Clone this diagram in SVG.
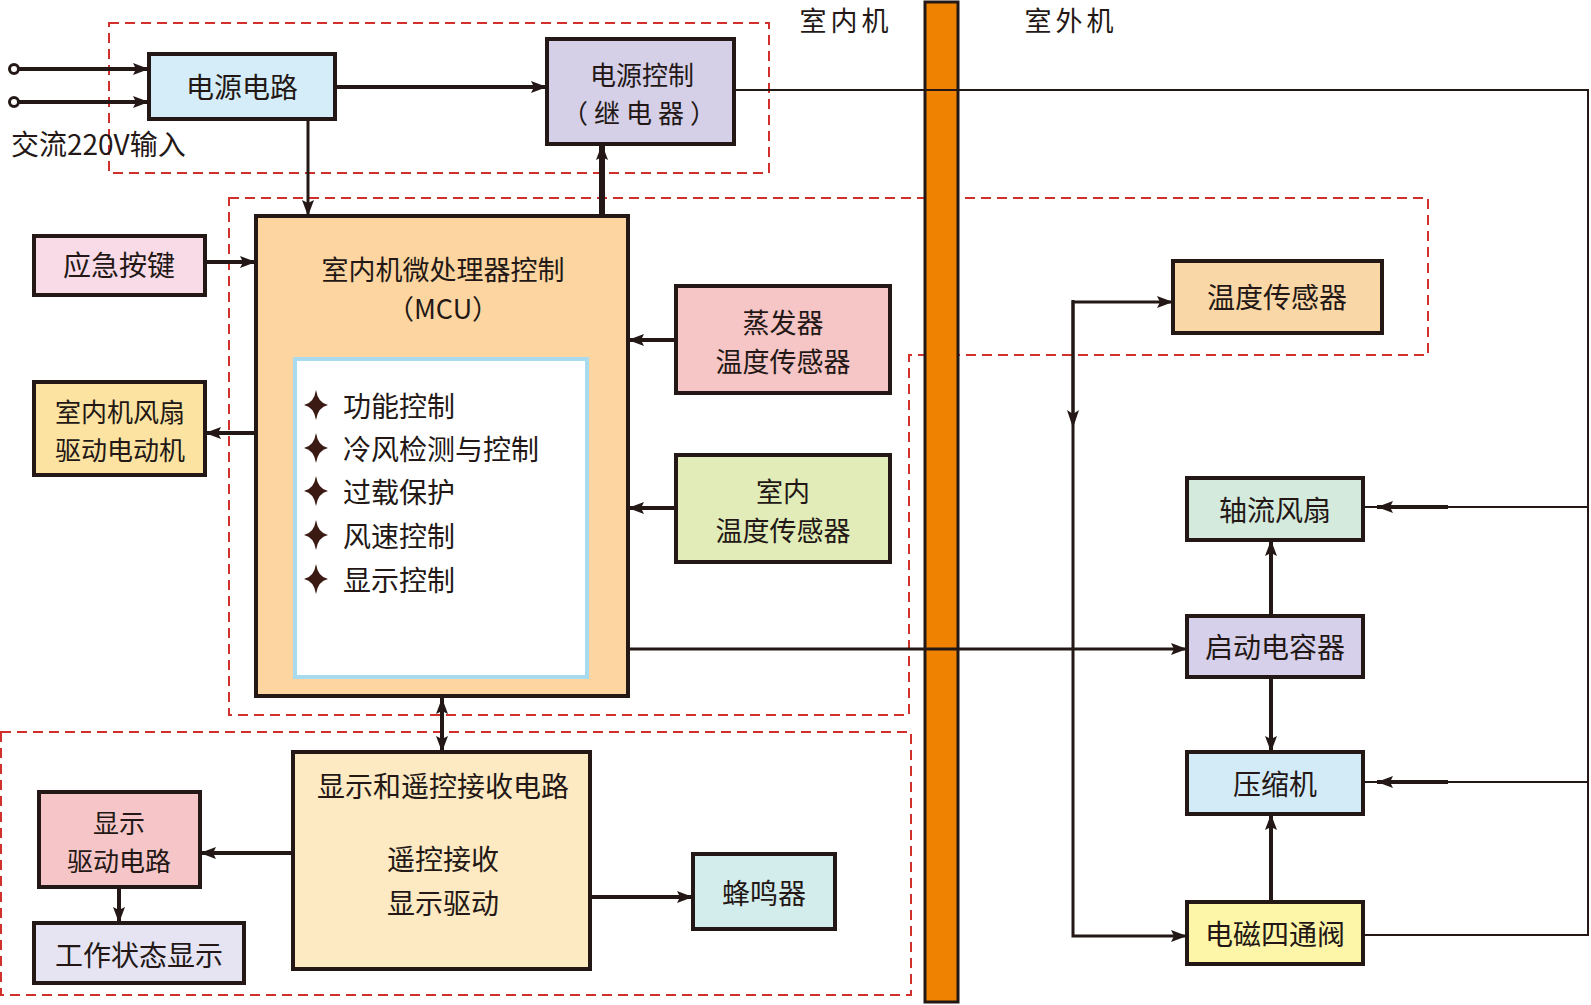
<svg xmlns="http://www.w3.org/2000/svg" width="1591" height="1005" viewBox="0 0 1591 1005">
<defs>
<style>
.n{stroke:#231815;stroke-width:4}
.t{font-family:"Noto Sans CJK SC","Noto Sans CJK JP",sans-serif;font-size:28px;fill:#231815;text-anchor:middle;dominant-baseline:central}
.s{font-size:27px}
.m{font-size:26px}
.tl{text-anchor:start}
.d{fill:none;stroke:#d2302a;stroke-width:2;stroke-dasharray:10 6}
.c{fill:none;stroke:#231815;stroke-width:4}
.c3{fill:none;stroke:#231815;stroke-width:3}
.c2{fill:none;stroke:#231815;stroke-width:2}
</style>
<marker id="a" markerUnits="userSpaceOnUse" markerWidth="18" markerHeight="14" refX="16" refY="6" orient="auto-start-reverse" viewBox="0 0 18 14">
<path d="M0,0 L16,6 L0,12 L3,6 z" fill="#231815"/>
</marker>
<path id="star" d="M0,-15 Q2,-2 12,0 Q2,2 0,15 Q-2,2 -12,0 Q-2,-2 0,-15 z" fill="#3a1a12"/>
</defs>
<rect width="1591" height="1005" fill="#fff"/>

<g id="groups">
<rect class="d" x="109" y="23" width="660" height="150"/>
<path class="d" d="M229,198 H1428 V355 H909 V715 H229 Z"/>
<rect class="d" x="1" y="732" width="910" height="263"/>
</g>

<g id="divider">
<rect x="925" y="2" width="33" height="1000" fill="#ef8200" stroke="#231815" stroke-width="3"/>
<text class="t s" x="846" y="19" letter-spacing="4">室内机</text>
<text class="t s" x="1071" y="19" letter-spacing="4">室外机</text>
</g>

<g id="input">
<text class="t tl" x="11" y="143">交流220V输入</text>
</g>

<g id="n-power">
<rect class="n" x="149" y="54" width="186" height="65" fill="#d4edf9"/>
<text class="t" x="242" y="86">电源电路</text>
</g>
<g id="n-relay">
<rect class="n" x="547" y="39" width="187" height="105" fill="#d5cfe8"/>
<text class="t m" x="642" y="73">电源控制</text>
<text class="t m" x="642" y="111" letter-spacing="6">（继电器）</text>
</g>
<g id="n-mcu">
<rect class="n" x="256" y="216" width="372" height="480" fill="#fcd5a0"/>
<text class="t s" x="443" y="268">室内机微处理器控制</text>
<text class="t s" x="443" y="307">（MCU）</text>
<rect x="295" y="359" width="292" height="318" fill="#fff" stroke="#a8dbf0" stroke-width="4"/>
<use href="#star" x="316" y="405"/>
<use href="#star" x="316" y="448"/>
<use href="#star" x="316" y="491"/>
<use href="#star" x="316" y="535"/>
<use href="#star" x="316" y="579"/>
<text class="t tl" x="343" y="405">功能控制</text>
<text class="t tl" x="343" y="448">冷风检测与控制</text>
<text class="t tl" x="343" y="491">过载保护</text>
<text class="t tl" x="343" y="535">风速控制</text>
<text class="t tl" x="343" y="579">显示控制</text>
</g>
<g id="n-key">
<rect class="n" x="34" y="236" width="171" height="59" fill="#f9dbe8"/>
<text class="t" x="119" y="264">应急按键</text>
</g>
<g id="n-fan">
<rect class="n" x="34" y="382" width="171" height="93" fill="#fce3a1"/>
<text class="t m" x="120" y="410">室内机风扇</text>
<text class="t m" x="120" y="448">驱动电动机</text>
</g>
<g id="n-evap">
<rect class="n" x="676" y="286" width="214" height="107" fill="#f6c5c6"/>
<text class="t s" x="783" y="321">蒸发器</text>
<text class="t s" x="783" y="360">温度传感器</text>
</g>
<g id="n-room">
<rect class="n" x="676" y="455" width="214" height="107" fill="#e1ecb8"/>
<text class="t s" x="783" y="490">室内</text>
<text class="t s" x="783" y="529">温度传感器</text>
</g>
<g id="n-disp">
<rect class="n" x="293" y="752" width="297" height="217" fill="#fde9c2"/>
<text class="t" x="443" y="785">显示和遥控接收电路</text>
<text class="t" x="443" y="858">遥控接收</text>
<text class="t" x="443" y="902">显示驱动</text>
</g>
<g id="n-drv">
<rect class="n" x="39" y="792" width="161" height="95" fill="#f6c5c7"/>
<text class="t m" x="119" y="821">显示</text>
<text class="t m" x="119" y="859">驱动电路</text>
</g>
<g id="n-state">
<rect class="n" x="34" y="923" width="210" height="60" fill="#e6e4f2"/>
<text class="t" x="139" y="954">工作状态显示</text>
</g>
<g id="n-buzz">
<rect class="n" x="693" y="854" width="142" height="75" fill="#d3ecec"/>
<text class="t" x="764" y="892">蜂鸣器</text>
</g>
<g id="n-otemp">
<rect class="n" x="1173" y="261" width="209" height="72" fill="#fad7a6"/>
<text class="t" x="1277" y="296">温度传感器</text>
</g>
<g id="n-axial">
<rect class="n" x="1187" y="478" width="176" height="62" fill="#d3eadd"/>
<text class="t" x="1275" y="509">轴流风扇</text>
</g>
<g id="n-cap">
<rect class="n" x="1187" y="616" width="176" height="61" fill="#d6d0ea"/>
<text class="t" x="1275" y="646">启动电容器</text>
</g>
<g id="n-comp">
<rect class="n" x="1187" y="752" width="176" height="62" fill="#d3eaf7"/>
<text class="t" x="1275" y="783">压缩机</text>
</g>
<g id="n-valve">
<rect class="n" x="1187" y="902" width="176" height="62" fill="#fdf5a8"/>
<text class="t" x="1275" y="933">电磁四通阀</text>
</g>

<g id="connectors">
<circle cx="14" cy="69" r="4.5" fill="#fff" stroke="#231815" stroke-width="3"/>
<circle cx="14" cy="102" r="4.5" fill="#fff" stroke="#231815" stroke-width="3"/>
<path class="c" d="M18,69 H149" marker-end="url(#a)"/>
<path class="c" d="M18,102 H149" marker-end="url(#a)"/>
<path class="c" d="M335,87 H547" marker-end="url(#a)"/>
<path class="c3" d="M308,119 V216" marker-end="url(#a)"/>
<path fill="none" stroke="#231815" stroke-width="6" d="M602,214 V144" marker-end="url(#a)"/>
<path class="c2" d="M734,90 H1588 V935 H1363"/>
<path class="c" d="M205,262 H256" marker-end="url(#a)"/>
<path class="c" d="M256,433 H205" marker-end="url(#a)"/>
<path class="c" d="M676,340 H628" marker-end="url(#a)"/>
<path class="c" d="M676,508 H628" marker-end="url(#a)"/>
<path class="c" d="M442,698 V752" marker-start="url(#a)" marker-end="url(#a)"/>
<path class="c" d="M293,853 H200" marker-end="url(#a)"/>
<path class="c" d="M119,887 V923" marker-end="url(#a)"/>
<path class="c" d="M590,897 H693" marker-end="url(#a)"/>
<path class="c3" d="M628,649 H1187" marker-end="url(#a)"/>
<path class="c3" d="M1073,420 V302 H1173" marker-end="url(#a)"/>
<path class="c3" d="M1073,300 V936 H1187" marker-end="url(#a)"/>
<path d="M1067,410 L1073,428 L1079,410 L1073,414 z" fill="#231815"/>
<path class="c" d="M1271,616 V540" marker-end="url(#a)"/>
<path class="c" d="M1271,677 V752" marker-end="url(#a)"/>
<path class="c" d="M1271,902 V814" marker-end="url(#a)"/>
<path class="c2" d="M1588,507 H1364"/>
<path class="c2" d="M1588,782 H1364"/>
<path class="c" d="M1448,507 H1377" marker-end="url(#a)"/>
<path class="c" d="M1448,782 H1377" marker-end="url(#a)"/>
</g>
</svg>
